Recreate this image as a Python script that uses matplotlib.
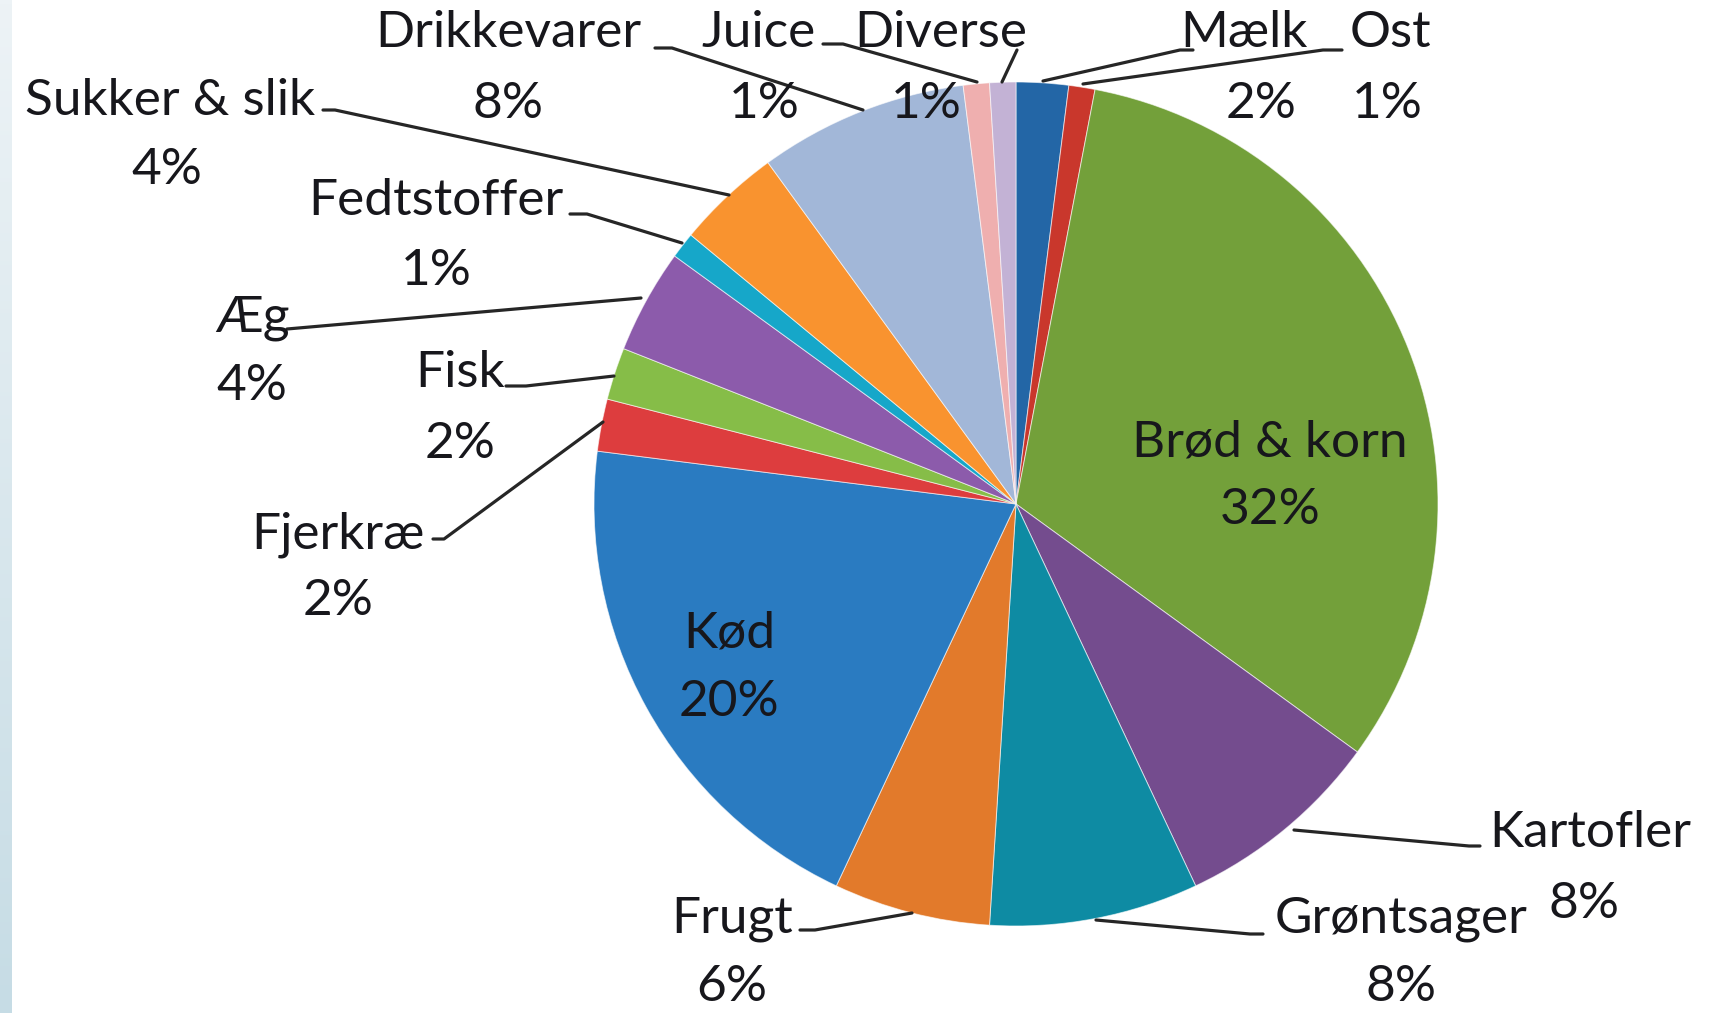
import matplotlib
matplotlib.use("Agg")
import matplotlib.pyplot as plt
import numpy as np
from matplotlib.colors import LinearSegmentedColormap

# ---- data ----
categories = ["Mælk", "Ost", "Brød & korn", "Kartofler", "Grøntsager", "Frugt", "Kød",
              "Fjerkræ", "Fisk", "Æg", "Fedtstoffer", "Sukker & slik", "Drikkevarer",
              "Juice", "Diverse"]
values = [2, 1, 32, 8, 8, 6, 20, 2, 2, 4, 1, 4, 8, 1, 1]
pct_labels = [f"{v}%" for v in values]

colors = ["#2366A6", "#C9372C", "#73A03A", "#744C8E", "#0E8BA3", "#E27A2B", "#2A7BC1",
          "#DD3D3E", "#86BD48", "#8C5BAB", "#16A7C9", "#F9932F", "#A2B7D8",
          "#EFAFAF", "#C3B2D5"]

# ---- layout (pixel coords, y from top) ----
W, H = 1719, 1013
CX, CY, R = 1016, 504, 422
# name center, pct center, leader-line polyline (None for inside labels)
layout = {
    "Mælk":          ((1244, 33), (1261, 104), [(1193, 50), (1180, 50), (1043, 81)]),
    "Ost":           ((1390, 33), (1387, 104), [(1342, 50), (1323, 50), (1083, 84)]),
    "Brød & korn":   ((1270, 442), (1270, 510), None),
    "Kartofler":     ((1590, 833), (1584, 904), [(1480, 846), (1469, 846), (1294, 830)]),
    "Grøntsager":    ((1401, 919), (1401, 987), [(1263, 934), (1250, 934), (1096, 920)]),
    "Frugt":         ((732, 919), (732, 987), [(800, 930), (815, 930), (912, 913)]),
    "Kød":           ((729, 633), (729, 702), None),
    "Fjerkræ":       ((338, 535), (338, 601), [(433, 539), (444, 539), (603, 422)]),
    "Fisk":          ((460, 373), (460, 444), [(506, 386), (526, 386), (614, 376)]),
    "Æg":            ((252, 318), (252, 386), [(287, 329), (641, 298)]),
    "Fedtstoffer":   ((436, 201), (436, 271), [(570, 214), (587, 214), (682, 243)]),
    "Sukker & slik": ((170, 101), (167, 170), [(323, 110), (335, 110), (729, 195)]),
    "Drikkevarer":   ((508, 33), (508, 104), [(655, 48), (672, 48), (863, 110)]),
    "Juice":         ((759, 33), (764, 104), [(823, 44), (843, 44), (977, 82)]),
    "Diverse":       ((941, 33), (926, 104), [(1017, 50), (1002, 82)]),
}

fig = plt.figure(figsize=(W / 100, H / 100), dpi=100)
fig.patch.set_facecolor("white")
ax = fig.add_axes([0, 0, 1, 1])

def fy(y):
    return H - y

# left slide strip gradient
grad = np.linspace(0, 1, 256).reshape(-1, 1)
cm = LinearSegmentedColormap.from_list("strip", ["#C6DCE5", "#EDF3F6"])
ax.imshow(grad, cmap=cm, extent=(0, 12, 0, H), aspect="auto", zorder=0, origin="lower")

wedges, _ = ax.pie(values, colors=colors, startangle=90, counterclock=False,
                   center=(CX, fy(CY)), radius=R,
                   wedgeprops=dict(edgecolor=(1, 1, 1, 0.6), linewidth=0.7))

font = dict(family=["Lato", "DejaVu Sans"], fontsize=37, color="#17171C")
for cat, pct in zip(categories, pct_labels):
    (nx, ny), (px, py), line = layout[cat]
    ax.text(nx, fy(ny), cat, ha="center", va="center", **font, zorder=5)
    ax.text(px, fy(py), pct, ha="center", va="center", **font, zorder=5)
    if line is not None:
        xs = [p[0] for p in line]
        ys = [fy(p[1]) for p in line]
        ax.plot(xs, ys, color="#262626", lw=2.3, zorder=4, solid_capstyle="round")

ax.set_xlim(0, W)
ax.set_ylim(0, H)
ax.set_aspect("equal")
ax.axis("off")
fig.savefig("out.png", dpi=100)
